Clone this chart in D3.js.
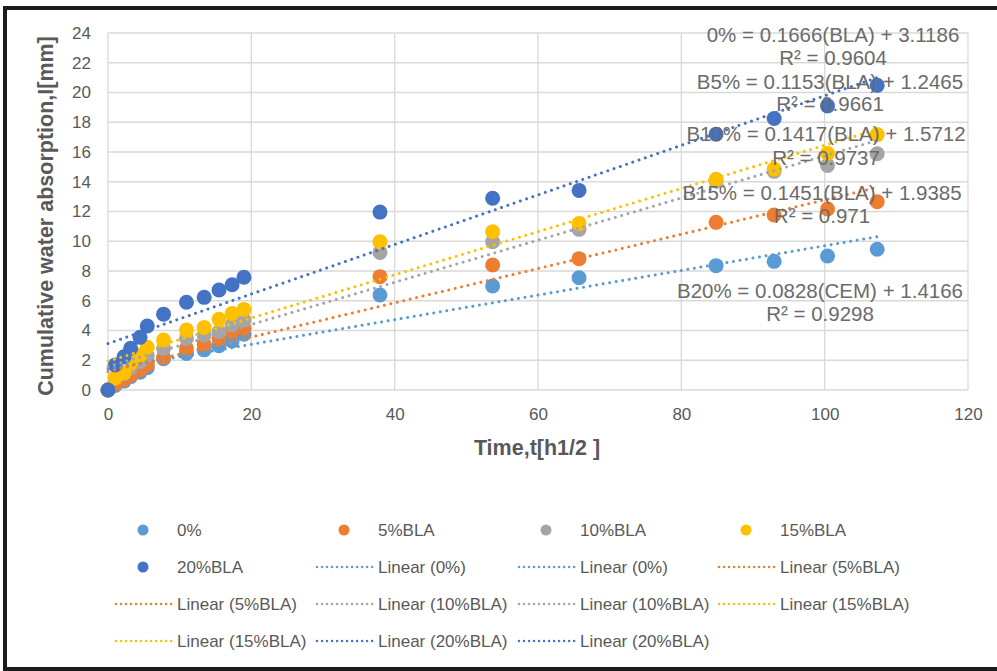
<!DOCTYPE html>
<html>
<head>
<meta charset="utf-8">
<script src="https://cdn.jsdelivr.net/npm/d3@7/dist/d3.min.js"></script>
<style>
  html, body { margin: 0; padding: 0; background: #fff; }
  svg { display: block; font-family: "Liberation Sans", Arial, sans-serif; }
</style>
</head>
<body>
<svg id="chart" width="997" height="671"></svg>
<script>
// Time axis: square root of elapsed time
const timeRoot = [0, 1, 2.24, 3.16, 4.47, 5.48, 7.75, 10.95, 13.42, 15.49, 17.32, 18.97,
                  37.95, 53.67, 65.73, 84.85, 92.95, 100.4, 107.33];

// Cumulative water absorption (mm) per mix
const series0   = [0, 0.3, 0.6, 0.9, 1.2, 1.5, 2.1, 2.45, 2.7, 2.98, 3.3, 3.75, 6.39, 6.99, 7.55, 8.36, 8.65, 9.01, 9.46];
const series5   = [0, 0.4, 0.7, 1.0, 1.35, 1.7, 2.2, 2.8, 3.07, 3.47, 3.92, 4.15, 7.62, 8.4, 8.83, 11.27, 11.76, 12.17, 12.66];
const series10  = [0, 0.8, 1.1, 1.5, 1.9, 2.3, 2.8, 3.47, 3.7, 3.92, 4.37, 4.7, 9.25, 9.97, 10.8, 14.05, 14.7, 15.1, 15.88];
const series15  = [0, 0.8, 1.14, 1.8, 2.35, 2.87, 3.36, 4.03, 4.2, 4.75, 5.15, 5.42, 9.97, 10.64, 11.2, 14.17, 14.85, 15.9, 17.17];
const series20  = [0, 1.68, 2.24, 2.8, 3.54, 4.3, 5.1, 5.9, 6.23, 6.72, 7.08, 7.58, 11.96, 12.89, 13.42, 17.2, 18.25, 19.1, 20.48];

const seriesNames  = ["0%", "5%BLA", "10%BLA", "15%BLA", "20%BLA"];
const seriesValues = [series0, series5, series10, series15, series20];
const seriesColors = ["#5b9bd5", "#ed7d31", "#a5a5a5", "#ffc000", "#4472c4"];

// Linear trend fits (slope, intercept, R²) and their labels
const trendSlopes     = [0.0828, 0.1153, 0.1417, 0.1451, 0.1666];
const trendIntercepts = [1.4166, 1.2465, 1.5712, 1.9385, 3.1186];
const trendLabels = [
  "B20% = 0.0828(CEM) + 1.4166",
  "B5% = 0.1153(BLA) + 1.2465",
  "B10% = 0.1417(BLA) + 1.5712",
  "B15% = 0.1451(BLA) + 1.9385",
  "0% = 0.1666(BLA) + 3.1186"
];
const r2Labels = ["R² = 0.9298", "R² = 0.9661", "R² = 0.9737", "R² = 0.971", "R² = 0.9604"];

const xTicks = [0, 20, 40, 60, 80, 100, 120];
const yTicks = [0, 2, 4, 6, 8, 10, 12, 14, 16, 18, 20, 22, 24];

const legendItems = [
  {label: "0%", s: 0, kind: "dot"},
  {label: "5%BLA", s: 1, kind: "dot"},
  {label: "10%BLA", s: 2, kind: "dot"},
  {label: "15%BLA", s: 3, kind: "dot"},
  {label: "20%BLA", s: 4, kind: "dot"},
  {label: "Linear (0%)", s: 0, kind: "line"},
  {label: "Linear (0%)", s: 0, kind: "line"},
  {label: "Linear (5%BLA)", s: 1, kind: "line"},
  {label: "Linear (5%BLA)", s: 1, kind: "line"},
  {label: "Linear (10%BLA)", s: 2, kind: "line"},
  {label: "Linear (10%BLA)", s: 2, kind: "line"},
  {label: "Linear (15%BLA)", s: 3, kind: "line"},
  {label: "Linear (15%BLA)", s: 3, kind: "line"},
  {label: "Linear (20%BLA)", s: 4, kind: "line"},
  {label: "Linear (20%BLA)", s: 4, kind: "line"}
];

const svg = d3.select("#chart");
const plot = {left: 108, right: 968, top: 33, bottom: 390};

const x = d3.scaleLinear().domain([0, 120]).range([plot.left, plot.right]);
const y = d3.scaleLinear().domain([0, 24]).range([plot.bottom, plot.top]);

// Outer frame
svg.append("rect")
  .attr("x", 5).attr("y", 8).attr("width", 1000).attr("height", 661)
  .attr("fill", "#fff").attr("stroke", "#1c1c1c").attr("stroke-width", 4);

// Gridlines
const grid = svg.append("g").attr("stroke", "#d9d9d9").attr("stroke-width", 1.3);
grid.selectAll("line.h").data(yTicks).join("line")
  .attr("x1", plot.left).attr("x2", plot.right)
  .attr("y1", d => y(d)).attr("y2", d => y(d));
grid.selectAll("line.v").data(xTicks).join("line")
  .attr("y1", plot.top).attr("y2", plot.bottom)
  .attr("x1", d => x(d)).attr("x2", d => x(d));

// Axes (labels only; Excel-style with no tick marks)
const xAxis = svg.append("g")
  .attr("transform", `translate(0,${plot.bottom + 18})`)
  .call(d3.axisBottom(x).tickValues(xTicks).tickSize(0).tickPadding(0));
const yAxis = svg.append("g")
  .attr("transform", `translate(${plot.left - 17},0)`)
  .call(d3.axisLeft(y).tickValues(yTicks).tickSize(0).tickPadding(0));
[xAxis, yAxis].forEach(a => {
  a.select(".domain").remove();
  a.selectAll("text").attr("fill", "#595959").style("font-size", "17px")
    .style("font-family", "'Liberation Sans', Arial, sans-serif");
});

// Axis titles
svg.append("text")
  .attr("x", 537).attr("y", 455).attr("text-anchor", "middle")
  .attr("fill", "#595959").style("font-size", "21.5px").style("font-weight", "bold")
  .text("Time,t[h1/2 ]");
svg.append("text")
  .attr("transform", "translate(53,216) rotate(-90)").attr("text-anchor", "middle")
  .attr("fill", "#595959").style("font-size", "21.5px").style("font-weight", "bold")
  .text("Cumulative water absorption,I[mm]");

// Markers
seriesValues.forEach((vals, i) => {
  svg.append("g").selectAll("circle").data(vals.map((v, k) => [timeRoot[k], v])).join("circle")
    .attr("cx", d => x(d[0])).attr("cy", d => y(d[1])).attr("r", 7.5)
    .attr("fill", seriesColors[i]);
});

// Trendlines over the fitted range
const xMin = d3.min(timeRoot), xMax = d3.max(timeRoot);
seriesValues.forEach((vals, i) => {
  const m = trendSlopes[i], b = trendIntercepts[i];
  svg.append("line")
    .attr("x1", x(xMin)).attr("y1", y(m * xMin + b))
    .attr("x2", x(xMax)).attr("y2", y(m * xMax + b))
    .attr("stroke", seriesColors[i]).attr("stroke-width", 3)
    .attr("stroke-linecap", "round").attr("stroke-dasharray", "0.01 6.6");
});

// Trendline equation labels
const labelPos = [
  {cx: 820, ey: 298, ry: 321},
  {cx: 830, ey: 89, ry: 111},
  {cx: 826, ey: 141, ry: 165},
  {cx: 822, ey: 200, ry: 223},
  {cx: 833, ey: 42, ry: 65}
];
const eq = svg.append("g").attr("fill", "#6b6b6b").style("font-size", "20.5px").attr("text-anchor", "middle");
trendLabels.forEach((t, i) => {
  eq.append("text").attr("x", labelPos[i].cx).attr("y", labelPos[i].ey).text(t);
  eq.append("text").attr("x", labelPos[i].cx).attr("y", labelPos[i].ry).text(r2Labels[i]);
});

// Legend
const colX = [115, 316, 518, 718];
const rowY = [530, 567, 604, 641];
const legend = svg.append("g");
legendItems.forEach((it, k) => {
  const cx = colX[k % 4], cy = rowY[Math.floor(k / 4)];
  const g = legend.append("g");
  if (it.kind === "dot") {
    g.append("circle").attr("cx", cx + 28).attr("cy", cy).attr("r", 5.5).attr("fill", seriesColors[it.s]);
  } else {
    g.append("line").attr("x1", cx + 1).attr("x2", cx + 57).attr("y1", cy).attr("y2", cy)
      .attr("stroke", seriesColors[it.s]).attr("stroke-width", 2.5)
      .attr("stroke-linecap", "round").attr("stroke-dasharray", "0.01 5");
  }
  g.append("text").attr("x", cx + 62).attr("y", cy + 6).attr("fill", "#595959")
    .style("font-size", "17px").text(it.label);
});
</script>
</body>
</html>
